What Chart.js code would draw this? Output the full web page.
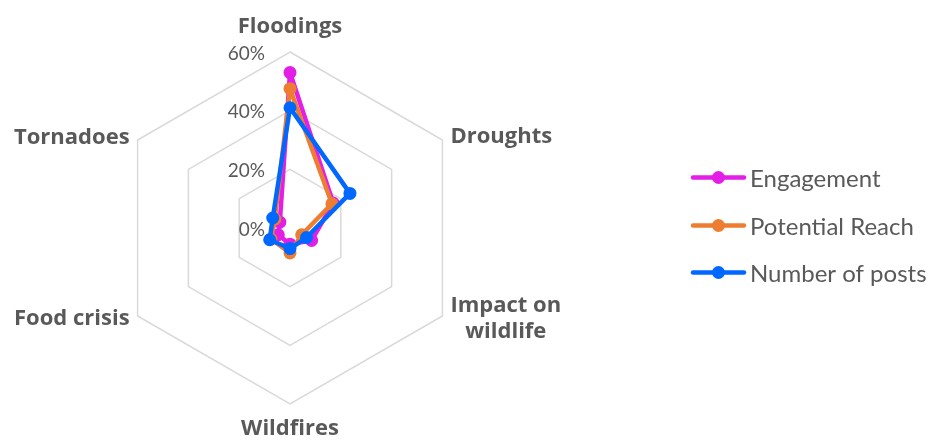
<!DOCTYPE html>
<html>
<head>
<meta charset="utf-8">
<script src="https://cdn.jsdelivr.net/npm/chart.js@4.4.1/dist/chart.umd.min.js"></script>
<style>
  html, body { margin: 0; padding: 0; background: #ffffff; }
  #wrap { position: relative; width: 929px; height: 441px; }
</style>
</head>
<body>
<div id="wrap"><canvas id="radar" width="929" height="441"></canvas></div>
<script>
// Topics on the radar spokes (clockwise from the top)
const categories = ['Floodings', 'Droughts', ['Impact on', 'wildlife'], 'Wildfires', 'Food crisis', 'Tornadoes'];

// Share of each metric per topic, in percent
const engagement     = [53.0, 17.0, 8.5, 5.5, 4.6, 4.0];
const potentialReach = [47.5, 16.5, 4.6, 8.5, 7.5, 6.0];
const numberOfPosts  = [41.0, 23.6, 6.5, 7.0, 8.0, 6.8];

const seriesNames = ['Engagement', 'Potential Reach', 'Number of posts'];

// Radial axis ticks
const tickValues = [0, 20, 40, 60];
const tickLabels = ['0%', '20%', '40%', '60%'];

const TEXT = '#595959';
const FONT = 'Lato, "Open Sans", sans-serif';
const BOLD_FONT = '"Open Sans", Lato, sans-serif';

// Axis labels, tick labels and legend drawn on the chart canvas
const decorations = {
  id: 'decorations',
  beforeDatasetsDraw(chart) {
    const r = chart.scales.r;
    const ctx = chart.ctx;
    ctx.save();
    ctx.fillStyle = TEXT;
    ctx.font = '19px ' + FONT;
    ctx.textAlign = 'right';
    ctx.textBaseline = 'alphabetic';
    tickValues.forEach((v, i) => {
      const y = r.yCenter - r.getDistanceFromCenterForValue(v);
      ctx.fillText(tickLabels[i], r.xCenter - 25, y + 1 + 6.8);
    });
    ctx.restore();
  },
  afterDraw(chart) {
    const r = chart.scales.r;
    const ctx = chart.ctx;
    ctx.save();
    ctx.fillStyle = TEXT;
    const size = 22;
    ctx.font = 'bold ' + size + 'px ' + BOLD_FONT;
    const half = size * 0.714 / 2;
    const labels = chart.data.labels;
    labels.forEach((lab, i) => {
      const p = r.getPointPosition(i, r.drawingArea);
      const lines = Array.isArray(lab) ? lab : [lab];
      const lh = 25.6;
      let x, yCap, align;
      if (i === 0) {            // top
        align = 'center'; x = p.x; yCap = p.y - 27;
      } else if (i === 3) {     // bottom
        align = 'center'; x = p.x; yCap = p.y + 23;
      } else if (p.x > r.xCenter) {
        align = 'left'; x = p.x + 8;
        yCap = p.y < r.yCenter ? p.y - 5 : p.y + 1;
      } else {
        align = 'right'; x = p.x - 8;
        yCap = p.y < r.yCenter ? p.y - 4 : p.y + 1;
      }
      ctx.textAlign = align;
      const top = yCap - (lines.length - 1) * lh / 2;
      if (lines.length > 1) {
        // multi-line label: lines centred on each other, block starts at x
        const w = Math.max(...lines.map(t => ctx.measureText(t).width));
        ctx.textAlign = 'center';
        const cx = align === 'left' ? x + w / 2 : x - w / 2;
        lines.forEach((t, k) => ctx.fillText(t, cx, top + k * lh + half));
      } else {
        ctx.fillText(lines[0], x, top + half);
      }
    });

    // legend
    ctx.font = '24px ' + FONT;
    ctx.textAlign = 'left';
    const rows = [177.5, 225.5, 272.5];
    chart.data.datasets.forEach((ds, k) => {
      const y = rows[k];
      ctx.strokeStyle = ds.borderColor;
      ctx.lineWidth = 4.5;
      ctx.lineCap = 'round';
      ctx.beginPath();
      ctx.moveTo(693, y);
      ctx.lineTo(744, y);
      ctx.stroke();
      ctx.fillStyle = ds.borderColor;
      ctx.beginPath();
      ctx.arc(718.5, y, 6.5, 0, Math.PI * 2);
      ctx.fill();
      ctx.fillStyle = TEXT;
      ctx.fillText(ds.label, 750, y + 1 + 24 * 0.72 / 2);
    });
    ctx.restore();
  }
};

function series(label, data, color, order) {
  return {
    label, data, order,
    borderColor: color,
    backgroundColor: color,
    pointBackgroundColor: color,
    pointBorderColor: color,
    borderWidth: 4.5,
    pointRadius: 5.5,
    pointBorderWidth: 2,
    pointHoverRadius: 5.5,
    borderJoinStyle: 'round',
    fill: false,
    tension: 0
  };
}

new Chart(document.getElementById('radar'), {
  type: 'radar',
  data: {
    labels: categories,
    datasets: [
      series(seriesNames[0], engagement, '#E31EE6', 2),
      series(seriesNames[1], potentialReach, '#ED7D31', 1),
      series(seriesNames[2], numberOfPosts, '#0068FF', 0)
    ]
  },
  options: {
    responsive: false,
    animation: false,
    devicePixelRatio: 1,
    layout: { padding: { left: 114, right: 463, top: 52, bottom: 37 } },
    plugins: { legend: { display: false }, tooltip: { enabled: false } },
    scales: {
      r: {
        min: 0,
        max: 60,
        ticks: { stepSize: 20, display: false },
        pointLabels: { display: false },
        angleLines: { display: false },
        grid: { color: '#D9D9D9', lineWidth: 1.5, circular: false }
      }
    }
  },
  plugins: [decorations]
});
</script>
</body>
</html>
